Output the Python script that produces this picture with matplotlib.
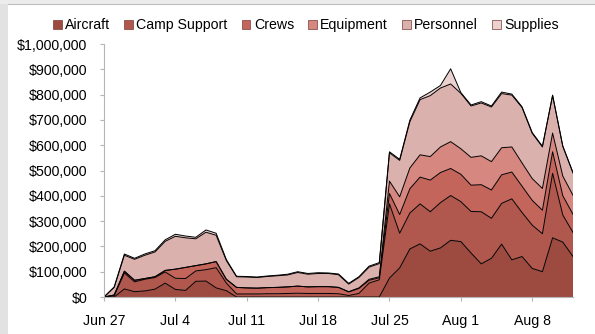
import numpy as np
import matplotlib
matplotlib.use('Agg')
import matplotlib.pyplot as plt
from matplotlib.patches import Patch, Rectangle
from matplotlib.lines import Line2D

plt.rcParams['font.family'] = ['Liberation Sans', 'DejaVu Sans']

# daily spend, Jun 27 - Aug 12, in thousands of dollars
aircraft = [0, 0, 32, 21, 24, 31, 55, 30, 26, 62, 63, 36, 25, 0, 0, 0, 0, 0, 0, 0, 0, 0, 0, 0,
            0, 0, 0, 0, 75, 115, 190, 210, 181, 194, 224, 219, 174, 131, 153, 209, 147, 160,
            113, 100, 234, 217, 160]
camp_support = [0, 5, 63, 39, 46, 46, 44, 44, 47, 41, 45, 80, 30, 12, 12, 12, 13, 13, 14, 15, 14,
                14, 14, 13, 6, 14, 55, 68, 293, 137, 142, 158, 156, 179, 177, 158, 164, 206, 158,
                161, 241, 174, 171, 150, 255, 107, 95]
crews = [0, 3, 7, 6, 3, 3, 6, 36, 44, 21, 23, 24, 15, 26, 24, 23, 24, 25, 26, 28, 26, 27, 27, 25,
         14, 20, 11, 8, 41, 74, 96, 106, 125, 119, 107, 108, 104, 107, 112, 113, 106, 104, 98,
         93, 85, 76, 72]
equipment = [0, 0, 0, 0, 0, 0, 0, 0, 0, 0, 0, 0, 0, 0, 0, 0, 0, 0, 0, 0, 0, 0, 0, 0,
             1, 2, 4, 4, 49, 70, 82, 88, 93, 101, 106, 101, 110, 114, 112, 107, 99, 92, 86,
             86, 74, 78, 75]
personnel = [0, 30, 63, 83, 92, 98, 115, 130, 117, 106, 125, 104, 74, 42, 43, 42, 44, 46, 47, 54,
             50, 52, 52, 50, 30, 41, 48, 52, 112, 144, 183, 218, 241, 233, 228, 219, 203, 209,
             216, 214, 205, 219, 179, 164, 148, 117, 88]
supplies = [0, 2, 5, 4, 5, 5, 6, 8, 7, 6, 9, 8, 4, 2, 2, 2, 2, 2, 3, 3, 3, 3, 2, 3, 3, 3, 4, 4,
            4, 4, 6, 7, 14, 10, 60, 3, 4, 5, 4, 6, 4, 3, 3, 3, 2, 2, 2]

names = ['Aircraft', 'Camp Support', 'Crews', 'Equipment', 'Personnel', 'Supplies']
colors = ['#9d4b41', '#b1584e', '#c3655b', '#d6877f', '#dbb1ae', '#ebd2d0']
week_labels = ['Jun 27', 'Jul 4', 'Jul 11', 'Jul 18', 'Jul 25', 'Aug 1', 'Aug 8']

series = np.array([aircraft, camp_support, crews, equipment, personnel, supplies]) * 1000.0
days = np.arange(series.shape[1])

fig = plt.figure(figsize=(5.95, 3.34), dpi=100)
fig.patches.append(Rectangle((0, 0), 8 / 595, 1, transform=fig.transFigure,
                             facecolor='#e2e2e2', edgecolor='none'))
fig.patches.append(Rectangle((0, 330 / 334), 1, 4 / 334, transform=fig.transFigure,
                             facecolor='#ececec', edgecolor='none'))
fig.lines.append(Line2D([8 / 595, 1], [330 / 334, 330 / 334], transform=fig.transFigure,
                        color='#bdbdbd', lw=0.8))

ax = fig.add_axes([104 / 595, 37 / 334, 469 / 595, 253 / 334])
ax.stackplot(days, series, colors=colors, linewidth=0)
tops = np.cumsum(series, axis=0)
for row in tops:
    ax.plot(days, row, color='black', lw=0.7)

ax.set_xlim(0, days[-1])
ax.set_ylim(0, 1000000)
ax.set_yticks(np.arange(0, 1000001, 100000))
ax.yaxis.set_major_formatter(plt.FuncFormatter(lambda v, p: '${:,.0f}'.format(v)))
ax.set_xticks(np.arange(0, len(days), 7))
ax.set_xticklabels(week_labels)

for side in ['top', 'right']:
    ax.spines[side].set_visible(False)
for side in ['left', 'bottom']:
    ax.spines[side].set_color('#b5b5b5')
    ax.spines[side].set_linewidth(0.8)
ax.tick_params(colors='#b5b5b5', labelcolor='black', labelsize=10.2, length=3, width=0.8)
ax.tick_params(axis='x', pad=9)
ax.tick_params(axis='y', pad=9)

handles = [Patch(facecolor=c, edgecolor='#7a3a33', linewidth=0.5) for c in colors]
fig.legend(handles, names, loc='center', bbox_to_anchor=(306 / 595, 1 - 25 / 334), ncol=6,
           frameon=False, fontsize=10.2, handlelength=0.6, handleheight=0.6,
           handletextpad=0.25, columnspacing=1.0, borderaxespad=0)

fig.savefig('out.png', dpi=100)
